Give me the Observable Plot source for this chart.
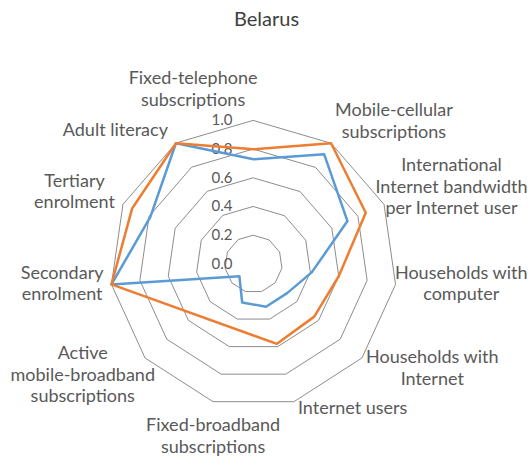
<!DOCTYPE html>
<html><head><meta charset="utf-8">
<script src="https://cdn.jsdelivr.net/npm/d3@7"></script>
<script src="https://cdn.jsdelivr.net/npm/@observablehq/plot@0.6"></script>
<style>
body{margin:0;background:#fff;font-family:Lato,sans-serif;}
#title{width:531px;height:38px;line-height:37px;text-align:center;font-size:20px;color:#404040;padding-left:2px;box-sizing:border-box;}
</style></head><body>
<div id="title">Belarus</div>
<div id="chart"></div>
<script>
// ---- data ----
const indicators = [
  "Fixed-telephone\nsubscriptions",
  "Mobile-cellular\nsubscriptions",
  "International\nInternet bandwidth\nper Internet user",
  "Households with\ncomputer",
  "Households with\nInternet",
  "Internet users",
  "Fixed-broadband\nsubscriptions",
  "Active\nmobile-broadband\nsubscriptions",
  "Secondary\nenrolment",
  "Tertiary\nenrolment",
  "Adult literacy"
];
const seriesBlue   = [0.73, 0.91, 0.72, 0.41, 0.31, 0.31, 0.28, 0.13, 1.00, 0.79, 1.00];
const seriesOrange = [0.80, 1.00, 0.86, 0.60, 0.56, 0.58, null, null, 1.00, 0.93, 1.00];
const tickValues = [0, 0.2, 0.4, 0.6, 0.8, 1.0];
const tickLabels = ["0.0", "0.2", "0.4", "0.6", "0.8", "1.0"];

// ---- layout ----
const W = 531, H = 422, CX = 253, CY = 225.5, R = 143.5;
const LABEL_FONT = 18, LINE_H = 21.5;
const n = indicators.length;
const ang = i => 2 * Math.PI * i / n;
const px = (v, i) => v * Math.sin(ang(i));
const py = (v, i) => v * Math.cos(ang(i));

const rings = tickValues.filter(t => t > 0).flatMap(t =>
  indicators.map((_, i) => ({ring: t, x: px(t, i), y: py(t, i)})));
const pts = (vals, name) => vals
  .map((v, i) => v == null ? null : {series: name, x: px(v, i), y: py(v, i)})
  .filter(d => d);

// measure text with a temporary SVG text node (same font as the chart)
const ns = "http://www.w3.org/2000/svg";
const tmp = document.createElementNS(ns, "svg");
tmp.setAttribute("width", 10); tmp.setAttribute("height", 10);
tmp.style.position = "absolute"; tmp.style.visibility = "hidden";
const tnode = document.createElementNS(ns, "text");
tnode.setAttribute("font-family", "Lato, sans-serif");
tnode.setAttribute("font-size", LABEL_FONT);
tmp.appendChild(tnode); document.body.appendChild(tmp);
const measure = s => { tnode.textContent = s; return tnode.getComputedTextLength(); };

// Excel-style placement: label box sits just outside its vertex, kept inside the chart area
const labels = indicators.map((label, i) => {
  const s = Math.sin(ang(i)), c = Math.cos(ang(i));
  const lines = label.split("\n");
  const w = Math.max(...lines.map(measure));
  const h = lines.length * LINE_H;
  const vx = CX + R * s;                       // vertex in px
  let boxCx, up = 5 + c * h / 2;               // upward shift in px
  if (s > 0.2) boxCx = vx + 4 + w / 2;         // right side: box starts at vertex
  else if (s < -0.5) boxCx = vx - 8 - w / 2;   // left side: box ends at vertex
  else if (c > 0.95) { boxCx = vx + 4 - w / 2; up += 6; }  // top: beside axis, above tick labels
  else { boxCx = vx; up -= 18; }               // bottom: centred, extra clearance
  boxCx = Math.max(10 + w / 2, Math.min(W - 4 - w / 2, boxCx));
  return {label, x: (boxCx - CX) / R, y: py(1, i) + up / R};
});
document.body.removeChild(tmp);

const ticks = tickValues.map((t, k) => ({v: t, label: tickLabels[k]}));

const chart = Plot.plot({
  width: W, height: H,
  marginTop: 0, marginRight: 0, marginBottom: 0, marginLeft: 0,
  x: {domain: [-CX / R, (W - CX) / R], range: [0, W], axis: null},
  y: {domain: [-(H - CY) / R, CY / R], range: [H, 0], axis: null},
  style: {fontFamily: "Lato, sans-serif", background: "#fff"},
  marks: [
    Plot.line(rings, {x: "x", y: "y", z: "ring", curve: "linear-closed", stroke: "#7f7f7f", strokeWidth: 0.9}),
    Plot.text(ticks, {x: 0, y: "v", text: "label", textAnchor: "end", dx: -21, fill: "#595959", fontSize: 15}),
    Plot.line(pts(seriesBlue, "blue"), {x: "x", y: "y", curve: "linear-closed", stroke: "#5B9BD5", strokeWidth: 2.5, strokeLinejoin: "round"}),
    Plot.line(pts(seriesOrange, "orange"), {x: "x", y: "y", curve: "linear-closed", stroke: "#ED7D31", strokeWidth: 2.5, strokeLinejoin: "round"}),
    Plot.text(labels, {x: "x", y: "y", text: "label", textAnchor: "middle", lineAnchor: "middle", lineHeight: LINE_H / LABEL_FONT, fill: "#595959", fontSize: LABEL_FONT})
  ]
});
document.getElementById("chart").appendChild(chart);
</script>
</body></html>
